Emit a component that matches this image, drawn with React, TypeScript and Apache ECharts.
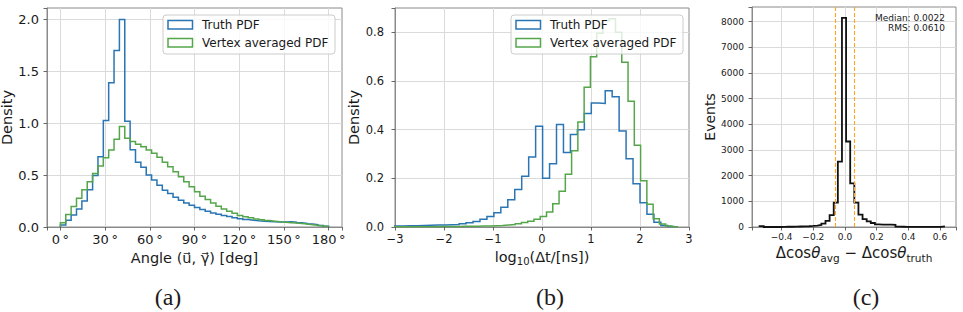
import React, { useEffect, useRef } from "react";
import * as echarts from "echarts";

// ---------- Panel (a): angle histograms (density per radian), 50 bins of 3.6 deg ----------
const angleBinStart = 0;
const angleBinWidth = 3.6;
const angleTruth = [
  0.02, 0.065, 0.116, 0.174, 0.25, 0.36, 0.497, 0.677, 1.026, 1.39, 1.7, 2.0,
  1.02, 0.745, 0.625, 0.575, 0.5, 0.452, 0.403, 0.355, 0.323, 0.286, 0.258, 0.232,
  0.21, 0.187, 0.168, 0.152, 0.135, 0.123, 0.11, 0.1, 0.09, 0.08, 0.072, 0.066,
  0.06, 0.056, 0.052, 0.05, 0.048, 0.048, 0.05, 0.047, 0.04, 0.035, 0.028, 0.022,
  0.014, 0.007,
];
const angleVertex = [
  0.04, 0.12, 0.197, 0.277, 0.36, 0.435, 0.516, 0.587, 0.668, 0.742, 0.845, 0.968,
  0.855, 0.823, 0.797, 0.774, 0.742, 0.71, 0.671, 0.623, 0.581, 0.532, 0.484, 0.435,
  0.387, 0.339, 0.297, 0.265, 0.232, 0.2, 0.174, 0.152, 0.132, 0.11, 0.098, 0.088,
  0.078, 0.07, 0.062, 0.056, 0.05, 0.046, 0.042, 0.038, 0.033, 0.028, 0.022, 0.016,
  0.01, 0.005,
];
const angleTickStep = 30;

// ---------- Panel (b): log10(dt/ns) histograms ----------
const dtTruthStart = -3.112;
const dtTruthWidth = 0.142;
const dtTruth = [
  0.004, 0.004, 0.005, 0.005, 0.006, 0.007, 0.008, 0.008, 0.009, 0.01, 0.013, 0.017,
  0.023, 0.032, 0.043, 0.059, 0.081, 0.112, 0.154, 0.209, 0.288, 0.414, 0.2, 0.26,
  0.421, 0.306, 0.38, 0.4, 0.466, 0.51, 0.508, 0.56, 0.535, 0.395, 0.28, 0.178,
  0.1, 0.052, 0.02, 0.006, 0.002,
];
const dtVertexStart = -3.108;
const dtVertexWidth = 0.128;
const dtVertex = [
  0.001, 0.001, 0.001, 0.001, 0.001, 0.001, 0.001, 0.002, 0.002, 0.002, 0.002, 0.003,
  0.003, 0.003, 0.004, 0.004, 0.005, 0.006, 0.008, 0.01, 0.013, 0.018, 0.024, 0.032,
  0.043, 0.062, 0.096, 0.147, 0.217, 0.313, 0.432, 0.574, 0.7, 0.796, 0.848, 0.856,
  0.8, 0.677, 0.517, 0.336, 0.19, 0.093, 0.034, 0.012, 0.004, 0.001,
];

// ---------- Panel (c): delta cos theta residuals (events) ----------
const dcosStart = -0.539;
const dcosWidth = 0.026;
const dcosEvents = [
  35, 0, 0, 5, 0, 5, 10, 10, 15, 20, 25, 30, 40, 55, 80, 130, 235, 460, 950, 2550,
  8150, 3330, 1700, 950, 480, 310, 220, 155, 105, 95, 90, 90, 85, 15, 10, 5, 5, 5,
  3, 3, 5, 5, 3, 2, 25,
];
const dcosMedian = 0.0022;
const dcosRms = 0.061;

const legendNames = ["Truth PDF", "Vertex averaged PDF"];
const panelTags = ["(a)", "(b)", "(c)"];

const BLUE = "#2a75b3";
const GREEN = "#55a64b";
const ORANGE = "#ffa51f";
const FONT = "DejaVu Sans";
const SPINE = "#8a8a8a";
const GRIDC = "#dadada";

function stepPoints(start: number, width: number, values: number[]) {
  const pts: number[][] = [[start, 0]];
  values.forEach((v, i) => {
    const l = start + i * width;
    pts.push([l, v], [l + width, v]);
  });
  pts.push([start + values.length * width, 0]);
  return pts;
}

const isMult = (v: number, step: number) => {
  const r = v / step;
  return Math.abs(r - Math.round(r)) < 1e-6;
};
const minus = (s: string) => s.replace("-", "\u2212");

function axisCommon(fontSize: number, margin: number) {
  return {
    axisLine: { show: true, onZero: false, lineStyle: { color: SPINE, width: 1 } },
    axisTick: { show: true, length: 3.5, lineStyle: { color: "#444", width: 0.8 } },
    splitLine: { show: true, showMinLine: false, showMaxLine: false, lineStyle: { color: GRIDC, width: 1 } },
    axisLabel: { fontFamily: FONT, fontSize, color: "#1a1a1a", margin },
    nameTextStyle: { fontFamily: FONT, color: "#1a1a1a" },
  };
}

export default function App() {
  const ref = useRef<HTMLDivElement>(null);
  useEffect(() => {
    if (!ref.current) return;
    const chart = echarts.init(ref.current, undefined, { renderer: "svg" });

    const gridA = { left: 47, top: 8, width: 295, height: 219 };
    const gridB = { left: 395, top: 8, width: 294, height: 219 };
    const gridC = { left: 752, top: 7, width: 204, height: 220 };

    const legend = (g: { left: number; top: number }) => {
      const x0 = g.left + 116;
      const y0 = g.top + 7;
      return [
        {
          type: "rect",
          shape: { x: x0, y: y0, width: 172, height: 39, r: 3 },
          style: { fill: "rgba(255,255,255,0.8)", stroke: "#cccccc", lineWidth: 1 },
          z: 100,
        },
        {
          type: "rect",
          shape: { x: x0 + 5, y: y0 + 5.5, width: 24.5, height: 8.5 },
          style: { fill: "none", stroke: BLUE, lineWidth: 1.5 },
          z: 101,
        },
        {
          type: "text",
          x: x0 + 39,
          y: y0 + 10,
          style: { text: legendNames[0], fontFamily: FONT, fontSize: 12, fill: "#1a1a1a", verticalAlign: "middle" },
          z: 101,
        },
        {
          type: "rect",
          shape: { x: x0 + 5, y: y0 + 23.5, width: 24.5, height: 8.5 },
          style: { fill: "none", stroke: GREEN, lineWidth: 1.5 },
          z: 101,
        },
        {
          type: "text",
          x: x0 + 39,
          y: y0 + 28,
          style: { text: legendNames[1], fontFamily: FONT, fontSize: 12, fill: "#1a1a1a", verticalAlign: "middle" },
          z: 101,
        },
      ];
    };

    const lineSeries = (name: string, xi: number, data: number[][], color: string, width: number, z: number) => ({
      name,
      type: "line",
      xAxisIndex: xi,
      yAxisIndex: xi,
      data,
      symbol: "none",
      showSymbol: false,
      clip: true,
      silent: true,
      z,
      lineStyle: { color, width, join: "miter" },
    });

    const rmsLineStyle = { color: ORANGE, type: [4, 2], width: 1.1, opacity: 1 };

    const option: any = {
      animation: false,
      backgroundColor: "#ffffff",
      grid: [
        { ...gridA, show: true, borderColor: SPINE, borderWidth: 1, backgroundColor: "#fff", outerBoundsMode: "none" },
        { ...gridB, show: true, borderColor: SPINE, borderWidth: 1, backgroundColor: "#fff", outerBoundsMode: "none" },
        { ...gridC, show: true, borderColor: SPINE, borderWidth: 1, backgroundColor: "#fff", outerBoundsMode: "none" },
      ],
      xAxis: [
        {
          ...axisCommon(13, 6),
          type: "value",
          gridIndex: 0,
          min: -9,
          max: 189,
          minInterval: angleTickStep,
          maxInterval: angleTickStep,
          axisLabel: {
            ...axisCommon(13, 6).axisLabel,
            formatter: (v: number) => (isMult(v, angleTickStep) ? `${Math.round(v)}\u2009°` : ""),
          },
          name: "Angle (u\u20D7, \u03B3\u20D7) [deg]",
          nameLocation: "middle",
          nameGap: 20,
          nameTextStyle: { fontFamily: FONT, fontSize: 14.5, color: "#1a1a1a" },
        },
        {
          ...axisCommon(11.5, 6),
          type: "value",
          gridIndex: 1,
          min: -3,
          max: 3,
          interval: 1,
          axisLabel: {
            ...axisCommon(11.5, 6).axisLabel,
            formatter: (v: number) => minus(String(Math.round(v))),
          },
          name: "log{sub|10}(\u0394t/[ns])",
          nameLocation: "middle",
          nameGap: 20,
          nameTextStyle: {
            fontFamily: FONT,
            fontSize: 14.5,
            color: "#1a1a1a",
            rich: { sub: { fontFamily: FONT, fontSize: 10, color: "#1a1a1a", padding: [9, 0, 0, 0] } },
          },
        },
        {
          ...axisCommon(9, 5),
          type: "value",
          gridIndex: 2,
          min: -0.587,
          max: 0.701,
          minInterval: 0.2,
          maxInterval: 0.2,
          axisLabel: {
            ...axisCommon(9, 5).axisLabel,
            formatter: (v: number) => (isMult(v, 0.2) ? minus(v.toFixed(1)) : ""),
          },
          name: "\u0394cos{it|\u03B8}{sub|avg} \u2212 \u0394cos{it|\u03B8}{sub|truth}",
          nameLocation: "middle",
          nameGap: 14,
          nameTextStyle: {
            fontFamily: FONT,
            fontSize: 15,
            color: "#1a1a1a",
            rich: {
              it: { fontFamily: FONT, fontSize: 15, fontStyle: "italic", color: "#1a1a1a" },
              sub: { fontFamily: FONT, fontSize: 10.5, color: "#1a1a1a", padding: [9, 0, 0, 0] },
            },
          },
        },
      ],
      yAxis: [
        {
          ...axisCommon(13, 8),
          type: "value",
          gridIndex: 0,
          min: 0,
          max: 2.11,
          interval: 0.5,
          axisLabel: {
            ...axisCommon(13, 8).axisLabel,
            formatter: (v: number) => (isMult(v, 0.5) ? v.toFixed(1) : ""),
          },
          name: "Density",
          nameLocation: "middle",
          nameGap: 29,
          nameTextStyle: { fontFamily: FONT, fontSize: 14.5, color: "#1a1a1a" },
        },
        {
          ...axisCommon(11.5, 11),
          type: "value",
          gridIndex: 1,
          min: 0,
          max: 0.9,
          interval: 0.2,
          axisLabel: {
            ...axisCommon(11.5, 11).axisLabel,
            formatter: (v: number) => (isMult(v, 0.2) ? v.toFixed(1) : ""),
          },
          name: "Density",
          nameLocation: "middle",
          nameGap: 26,
          nameTextStyle: { fontFamily: FONT, fontSize: 14.5, color: "#1a1a1a" },
        },
        {
          ...axisCommon(9, 8),
          type: "value",
          gridIndex: 2,
          min: 0,
          max: 8570,
          interval: 1000,
          axisLabel: {
            ...axisCommon(9, 8).axisLabel,
            formatter: (v: number) => (isMult(v, 1000) ? String(Math.round(v)) : ""),
          },
          name: "Events",
          nameLocation: "middle",
          nameGap: 30,
          nameTextStyle: { fontFamily: FONT, fontSize: 14, color: "#1a1a1a" },
        },
      ],
      series: [
        lineSeries(legendNames[0], 0, stepPoints(angleBinStart, angleBinWidth, angleTruth), BLUE, 1.5, 3),
        lineSeries(legendNames[1], 0, stepPoints(angleBinStart, angleBinWidth, angleVertex), GREEN, 1.5, 4),
        lineSeries(legendNames[0], 1, stepPoints(dtTruthStart, dtTruthWidth, dtTruth), BLUE, 1.5, 3),
        lineSeries(legendNames[1], 1, stepPoints(dtVertexStart, dtVertexWidth, dtVertex), GREEN, 1.5, 4),
        {
          ...lineSeries("residual", 2, stepPoints(dcosStart, dcosWidth, dcosEvents), "#111111", 1.8, 4),
          markLine: {
            silent: true,
            symbol: ["none", "none"],
            label: { show: false },
            lineStyle: rmsLineStyle,
            emphasis: { disabled: true },
            data: [
              { xAxis: -dcosRms, lineStyle: rmsLineStyle },
              { xAxis: dcosRms, lineStyle: rmsLineStyle },
            ],
          },
        },
      ],
      graphic: [
        ...legend(gridA),
        ...legend(gridB),
        {
          type: "text",
          x: 945,
          y: 23,
          style: {
            text: `Median: ${dcosMedian.toFixed(4)}\nRMS: ${dcosRms.toFixed(4)}`,
            fontFamily: FONT,
            fontSize: 9,
            lineHeight: 10.5,
            fill: "#1a1a1a",
            align: "right",
            verticalAlign: "middle",
          },
          z: 100,
        },
        ...panelTags.map((t, i) => ({
          type: "text",
          x: [168, 550, 866][i],
          y: 297,
          style: {
            text: t,
            fontFamily: "Liberation Serif",
            fontSize: 24,
            fill: "#231a1a",
            align: "center",
            verticalAlign: "middle",
          },
        })),
      ],
    };

    chart.setOption(option);
    return () => chart.dispose();
  }, []);

  return (
    <div
      ref={ref}
      style={{ position: "absolute", left: 0, top: 0, width: 963, height: 312, background: "#fff" }}
    />
  );
}
